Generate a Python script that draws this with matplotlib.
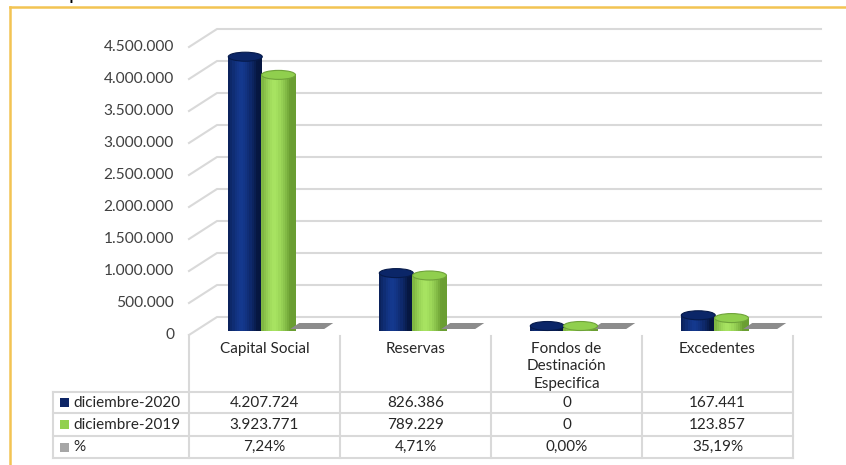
import numpy as np
import matplotlib.pyplot as plt
from matplotlib.patches import Ellipse, PathPatch
from matplotlib.path import Path

categorias = ["Capital Social", "Reservas", "Fondos de\nDestinación\nEspecifica", "Excedentes"]
dic_2020 = [4207724, 826386, 0, 167441]
dic_2019 = [3923771, 789229, 0, 123857]
variacion = [7.24, 4.71, 0.00, 35.19]
series = ["diciembre-2020", "diciembre-2019", "%"]
y_ticks = [0, 500000, 1000000, 1500000, 2000000, 2500000, 3000000, 3500000, 4000000, 4500000]

W, H = 846, 465
FONT = "Lato"

fig = plt.figure(figsize=(W / 100, H / 100), dpi=100)
fig.patch.set_facecolor("white")

# plano frontal del grafico (en pixeles de la imagen)
fx0, fx1, fy0, fy1 = 189, 793, 335, 47
ax = fig.add_axes([fx0 / W, (H - fy0) / H, (fx1 - fx0) / W, (fy0 - fy1) / H])
ax.set_xlim(-0.5, 3.5)
ax.set_ylim(0, 4500000)
ax.axis("off")

# eje de pixeles para marco y tabla
tb = fig.add_axes([0, 0, 1, 1], zorder=-1)
tb.set_xlim(0, W)
tb.set_ylim(H, 0)
tb.axis("off")

px_x = 4.0 / (fx1 - fx0)
px_y = 4500000 / (fy0 - fy1)

# profundidad 3d
bx, by = 28 * px_x, 18 * px_y
mx, my = 14 * px_x, 9 * px_y

grid_col = "#d9d9d9"
for v in y_ticks:
    ax.plot([-0.5, -0.5 + bx, 3.5 + bx], [v, v + by, v + by], color=grid_col,
            lw=1.5, clip_on=False, zorder=1)
    lab = f"{v:,}".replace(",", ".")
    ax.text(-0.5 - 15 * px_x, v, lab, ha="right", va="center", fontsize=11.2,
            color="#404040", family=FONT, clip_on=False)


def shades(c_edge, c_mid, n):
    c_edge = np.array(plt.matplotlib.colors.to_rgb(c_edge))
    c_mid = np.array(plt.matplotlib.colors.to_rgb(c_mid))
    t = np.linspace(-1, 1, n)
    k = np.clip(1 - np.abs(t + 0.25) ** 1.5, 0, 1)
    return [tuple(c_edge + (c_mid - c_edge) * kk) for kk in k]


def cilindro(xc, val, w, c_edge, c_mid, c_top, c_top_edge, z):
    eh = 4.5 * px_y
    base = my
    top = val + my
    th = np.linspace(np.pi, 2 * np.pi, 40)
    vx = list(xc + w / 2 * np.cos(th)) + [xc + w / 2, xc - w / 2, xc - w / 2]
    vy = list(base + eh * np.sin(th)) + [top, top, base]
    clip = PathPatch(Path(np.column_stack([vx, vy])), transform=ax.transData)
    n = 16
    xs = xc - w / 2 + (np.arange(n) + 0.5) * w / n
    bars = ax.bar(xs, top - base + eh, width=w / n * 1.05, bottom=base - eh,
                  color=shades(c_edge, c_mid, n), linewidth=0, zorder=z,
                  clip_on=False)
    for b in bars:
        b.set_clip_path(clip)
    ax.add_patch(Ellipse((xc, top), w, 2 * eh, facecolor=c_top,
                         edgecolor=c_top_edge, lw=0.8, zorder=z + 0.5,
                         clip_on=False))


w = 0.225
offs = [-0.22, 0.0, 0.22]
for i in range(len(categorias)):
    cilindro(i + offs[0] + mx, dic_2020[i], w, "#061640", "#14398f",
             "#0b2668", "#061a4a", 3 + i)
    cilindro(i + offs[1] + mx, dic_2019[i], w, "#6a9e32", "#a8e462",
             "#90cf4e", "#6fa33a", 3.1 + i)
    # serie % casi plana: cara superior en perspectiva
    xc = i + offs[2] + mx
    sx, sy = 4.5 * px_x, 3 * px_y
    yv = variacion[i] + my
    ax.fill([xc - w / 2 - sx, xc + w / 2 - sx, xc + w / 2 + sx, xc - w / 2 + sx],
            [yv - sy, yv - sy, yv + sy, yv + sy], color="#8c8c8c", lw=0,
            zorder=3.2 + i, clip_on=False)

# marco
frame_col = "#f3c453"
tb.plot([10, W], [7, 7], color=frame_col, lw=1.8)
tb.plot([10, 10], [7, H], color=frame_col, lw=1.8)
tb.text(68, -1, "p", fontsize=15, family=FONT, color="black", va="baseline", ha="left",
        clip_on=False)

# tabla de datos
line_col = "#d9d9d9"
cols = [fx0 + k * (fx1 - fx0) / 4 for k in range(5)]
rows = [392, 413, 436, 458]
tb_left = 53
tb.plot([fx0, fx0], [fy0, rows[-1]], color=line_col, lw=1.5)
for cx in cols[1:]:
    tb.plot([cx, cx], [fy0 + 1, rows[-1]], color=line_col, lw=1.5)
tb.plot([tb_left, tb_left], [rows[0], rows[-1]], color=line_col, lw=1.5)
for ry in rows:
    tb.plot([tb_left, fx1], [ry, ry], color=line_col, lw=1.5)

txt_col = "#262626"
for i, c in enumerate(categorias):
    cx = (cols[i] + cols[i + 1]) / 2
    tb.text(cx, 342, c, ha="center", va="top", fontsize=11, family=FONT,
            color=txt_col, linespacing=1.3)
    vals = [f"{dic_2020[i]:,}".replace(",", "."), f"{dic_2019[i]:,}".replace(",", "."),
            f"{variacion[i]:.2f}".replace(".", ",") + "%"]
    for r, t in enumerate(vals):
        tb.text(cx, (rows[r] + rows[r + 1]) / 2, t, ha="center", va="center",
                fontsize=11, family=FONT, color=txt_col)

key_cols = ["#0d2566", "#92d050", "#a6a6a6"]
for r, s in enumerate(series):
    yc = (rows[r] + rows[r + 1]) / 2
    tb.add_patch(plt.Rectangle((60, yc - 4.5), 9, 9, color=key_cols[r], lw=0))
    tb.text(73, yc, s, ha="left", va="center", fontsize=11, family=FONT,
            color=txt_col)

fig.savefig("out.png", dpi=100)
